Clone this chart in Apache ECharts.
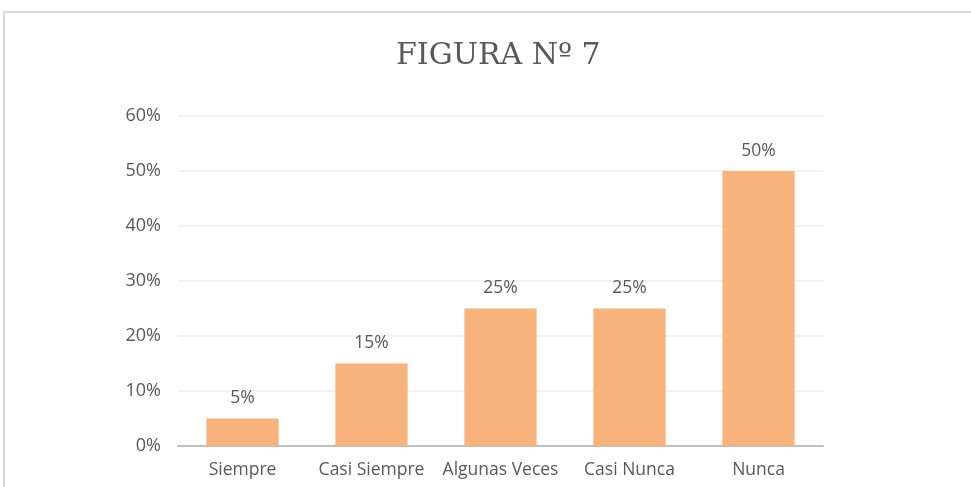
<!DOCTYPE html>
<html>
<head>
<meta charset="utf-8">
<script src="https://cdn.jsdelivr.net/npm/echarts@6/dist/echarts.min.js"></script>
<style>
html,body{margin:0;padding:0;background:#fff;}
#c{width:971px;height:487px;}
</style>
</head>
<body>
<div id="c"></div>
<script>
const titleText = "FIGURA Nº 7";
const categories = ["Siempre", "Casi Siempre", "Algunas Veces", "Casi Nunca", "Nunca"];
const values = [5, 15, 25, 25, 50];
const yTicks = [0, 10, 20, 30, 40, 50, 60];

const chart = echarts.init(document.getElementById('c'), null, {renderer: 'canvas'});
chart.setOption({
  backgroundColor: '#ffffff',
  animation: false,
  title: {
    text: titleText,
    left: 391,
    top: 36,
    textStyle: {fontFamily: 'DejaVu Serif', fontWeight: 'normal', fontSize: 30, color: '#595959'}
  },
  graphic: [{
    type: 'rect',
    shape: {x: 4, y: 12, width: 1100, height: 600},
    style: {fill: 'none', stroke: '#d9d9d9', lineWidth: 2},
    silent: true
  }],
  grid: {left: 178, right: 148, top: 116, bottom: 41, containLabel: false},
  xAxis: {
    type: 'category',
    data: categories,
    axisLine: {lineStyle: {color: '#bfbfbf', width: 2}},
    axisTick: {show: false},
    axisLabel: {color: '#595959', fontSize: 17.5, fontFamily: 'Open Sans', margin: 15, interval: 0}
  },
  yAxis: {
    type: 'value',
    min: yTicks[0],
    max: yTicks[yTicks.length - 1],
    interval: 10,
    axisLine: {show: false},
    axisTick: {show: false},
    splitLine: {lineStyle: {color: '#eeeeee', width: 1.5}},
    axisLabel: {color: '#595959', fontSize: 18, fontFamily: 'Open Sans', margin: 17, formatter: '{value}%'}
  },
  series: [{
    type: 'bar',
    data: values,
    barWidth: '56%',
    itemStyle: {color: '#F8B27B'},
    label: {
      show: true,
      position: 'top',
      distance: 11,
      color: '#595959',
      fontSize: 17.5,
      fontFamily: 'Open Sans',
      formatter: '{c}%'
    }
  }]
});
</script>
</body>
</html>
